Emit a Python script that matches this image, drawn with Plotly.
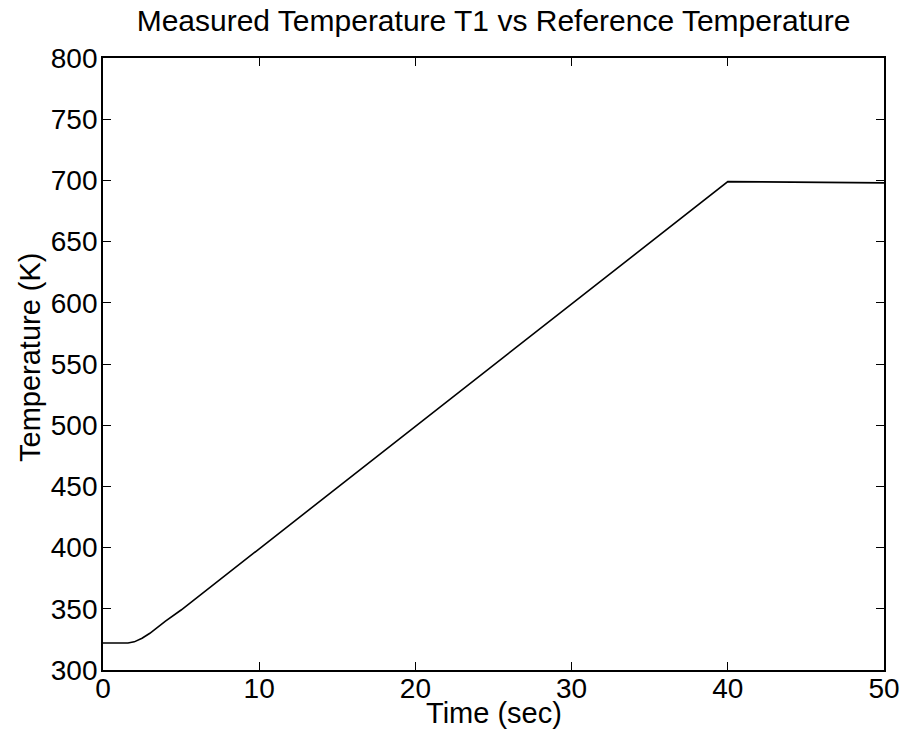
import plotly.graph_objects as go

time_s = [0, 1.6, 2.0, 2.5, 3, 3.5, 4, 5, 6, 8, 10, 20, 30, 40, 50]
temp_k = [322, 322, 323, 326, 330, 335, 340, 349, 359, 379, 399, 499, 599, 699, 698]

x_ticks = [0, 10, 20, 30, 40, 50]
y_ticks = [300, 350, 400, 450, 500, 550, 600, 650, 700, 750, 800]

FONT = "Liberation Sans, Arial, sans-serif"

fig = go.Figure()
fig.add_trace(go.Scatter(x=time_s, y=temp_k, mode="lines",
                         line=dict(color="black", width=1.6), showlegend=False))

axis_common = dict(showgrid=False, zeroline=False, showline=True, linecolor="black",
                   linewidth=1.8, mirror="ticks", ticks="inside", ticklen=8,
                   tickcolor="black", tickwidth=1.2,
                   tickfont=dict(family=FONT, size=28, color="black"))

fig.update_xaxes(range=[0, 50], tickvals=x_ticks, ticklabelstandoff=-8, **axis_common)
fig.update_yaxes(range=[300, 800], tickvals=y_ticks, ticklabelstandoff=-2, **axis_common)

fig.add_annotation(text="Time (sec)", xref="paper", yref="paper", x=0.5, y=0,
                   xanchor="center", yanchor="middle", yshift=-43, showarrow=False,
                   font=dict(family=FONT, size=29, color="black"))
fig.add_annotation(text="Temperature (K)", xref="paper", yref="paper", x=0, y=0.5,
                   xanchor="center", yanchor="middle", xshift=-73, yshift=7,
                   textangle=-90, showarrow=False,
                   font=dict(family=FONT, size=29, color="black"))

fig.update_layout(
    width=912, height=748,
    margin=dict(l=103, r=20, t=58, b=78),
    paper_bgcolor="white", plot_bgcolor="white",
    title=dict(text="Measured Temperature T1 vs Reference Temperature",
               font=dict(family=FONT, size=30, color="black"),
               x=0.5, xanchor="center", xref="paper",
               y=1 - 20 / 748, yref="container", yanchor="middle"),
)

fig.write_html("out.html")
